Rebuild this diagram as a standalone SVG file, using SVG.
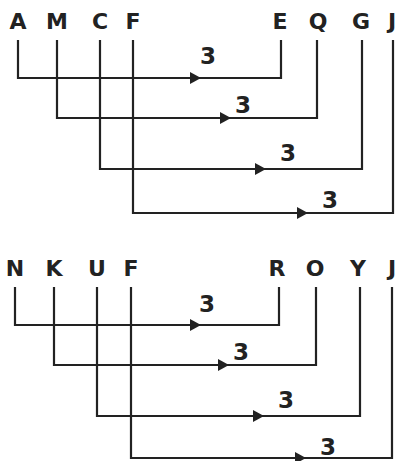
<svg xmlns="http://www.w3.org/2000/svg" width="398" height="461" viewBox="0 0 398 461">
<style>
.l{font-family:"DejaVu Sans",Verdana,sans-serif;font-weight:bold;font-size:22px;fill:#222;text-anchor:middle}
.n{font-family:"DejaVu Sans",Verdana,sans-serif;font-weight:bold;font-size:23px;fill:#222;text-anchor:middle}
.w{fill:none;stroke:#222;stroke-width:2.2}
.a{fill:#222}
</style>
<defs>
<path id="ah" d="M0,0 L-11,-6 L-11,6 Z"/>
</defs>
<rect width="398" height="461" fill="#fff"/>
<g id="top-letters">
<text class="l" x="18" y="29">A</text>
<text class="l" x="57" y="29">M</text>
<text class="l" x="100" y="29">C</text>
<text class="l" x="133" y="29">F</text>
<text class="l" x="280" y="29">E</text>
<text class="l" x="318" y="29">Q</text>
<text class="l" x="361" y="29">G</text>
<text class="l" x="392" y="29">J</text>
</g>
<g id="bottom-letters">
<text class="l" x="15" y="276">N</text>
<text class="l" x="54" y="276">K</text>
<text class="l" x="97" y="276">U</text>
<text class="l" x="131" y="276">F</text>
<text class="l" x="277" y="276">R</text>
<text class="l" x="315" y="276">O</text>
<text class="l" x="358" y="276">Y</text>
<text class="l" x="392" y="276">J</text>
</g>
<g id="connectors">
<path class="w" d="M18,40 V78 H281 V40"/>
<path class="w" d="M57,40 V118 H317 V40"/>
<path class="w" d="M100,40 V169 H362 V40"/>
<path class="w" d="M133,40 V213 H393 V40"/>
<use href="#ah" class="a" x="201" y="78"/>
<use href="#ah" class="a" x="231" y="118"/>
<use href="#ah" class="a" x="266" y="169"/>
<use href="#ah" class="a" x="308" y="213"/>
<path class="w" d="M15,287 V325 H279 V287"/>
<path class="w" d="M54,287 V365 H316 V287"/>
<path class="w" d="M97,287 V416 H360 V287"/>
<path class="w" d="M131,287 V458 H392 V287"/>
<use href="#ah" class="a" x="201" y="325"/>
<use href="#ah" class="a" x="229" y="365"/>
<use href="#ah" class="a" x="264" y="416"/>
<use href="#ah" class="a" x="306" y="458"/>
</g>
<g id="labels">
<text class="n" x="208" y="64">3</text>
<text class="n" x="243" y="113">3</text>
<text class="n" x="288" y="161">3</text>
<text class="n" x="330" y="208">3</text>
<text class="n" x="207" y="312">3</text>
<text class="n" x="241" y="360">3</text>
<text class="n" x="286" y="408">3</text>
<text class="n" x="328" y="455">3</text>
</g>
</svg>
